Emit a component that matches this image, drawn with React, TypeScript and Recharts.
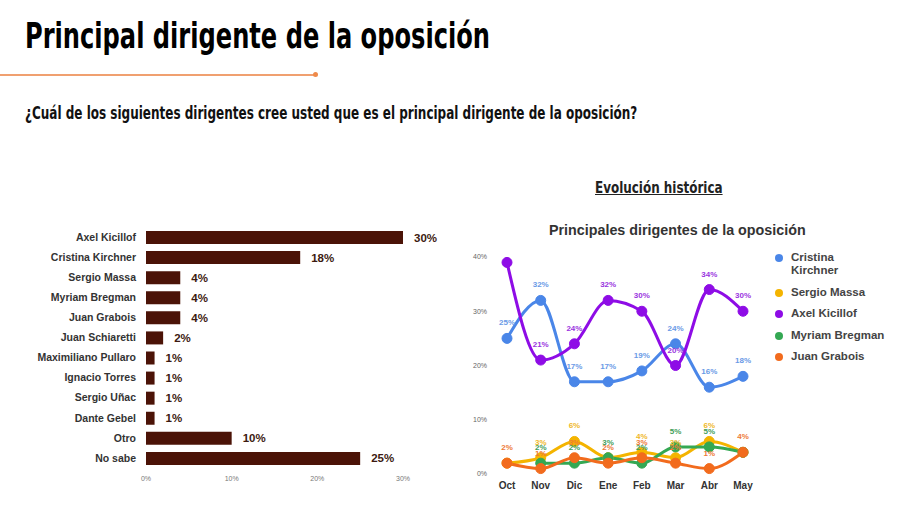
import { Bar, BarChart, LabelList, Line, LineChart, XAxis, YAxis } from "recharts";

// Ranking actual
const leaders = [
  "Axel Kicillof",
  "Cristina Kirchner",
  "Sergio Massa",
  "Myriam Bregman",
  "Juan Grabois",
  "Juan Schiaretti",
  "Maximiliano Pullaro",
  "Ignacio Torres",
  "Sergio Uñac",
  "Dante Gebel",
  "Otro",
  "No sabe",
];
const leaderShare = [30, 18, 4, 4, 4, 2, 1, 1, 1, 1, 10, 25];
const shareTicks = [0, 10, 20, 30];

// Evolución mensual
const months = ["Oct", "Nov", "Dic", "Ene", "Feb", "Mar", "Abr", "May"];
const kirchner = [25, 32, 17, 17, 19, 24, 16, 18];
const massa = [2, 3, 6, 3, 4, 3, 6, 4];
const kicillof = [39, 21, 24, 32, 30, 20, 34, 30];
const bregman = [null, 2, 2, 3, 2, 5, 5, 4];
const grabois = [2, 1, 3, 2, 3, 2, 1, 4];
const historyTicks = [0, 10, 20, 30, 40];

const series = [
  { key: "kirchner", name: "Cristina Kirchner", legend: "Cristina\nKirchner", color: "#4a86e8", label: "#6a9ae6", values: kirchner },
  { key: "massa", name: "Sergio Massa", legend: "Sergio Massa", color: "#f4b400", label: "#efb82a", values: massa },
  { key: "kicillof", name: "Axel Kicillof", legend: "Axel Kicillof", color: "#8e0ce6", label: "#9a35e0", values: kicillof },
  { key: "bregman", name: "Myriam Bregman", legend: "Myriam Bregman", color: "#34a853", label: "#3f9e5a", values: bregman },
  { key: "grabois", name: "Juan Grabois", legend: "Juan Grabois", color: "#f26b1d", label: "#ee7a36", values: grabois },
];

const barData = leaders.map((name, i) => ({ name, value: leaderShare[i] }));
const lineData = months.map((month, i) => {
  const row: Record<string, string | number | null> = { month };
  series.forEach((s) => (row[s.key] = s.values[i]));
  return row;
});

const condensed = "'DejaVu Sans Condensed', 'DejaVu Sans', sans-serif";
const sans = "'Liberation Sans', Arial, sans-serif";

// a later series with the same value at that month paints its label on the same spot
function coveredLater(seriesIdx: number, index: number, value: number) {
  return series.slice(seriesIdx + 1).some((s) => s.values[index] === value);
}

function pointLabel(seriesIdx: number) {
  const s = series[seriesIdx];
  return (props: any) => {
    const { x, y, value, index } = props;
    if (value == null || (s.key === "kicillof" && index === 0)) return null;
    if (coveredLater(seriesIdx, index, value)) return null;
    return (
      <text x={x} y={y - 13} textAnchor="middle" fill={s.label} fontSize={8} fontWeight="bold" fontFamily={sans}>
        {value}%
      </text>
    );
  };
}

const squeezed = (scale: number): React.CSSProperties => ({
  transform: `scaleX(${scale})`,
  transformOrigin: "left top",
  whiteSpace: "nowrap",
});

export default function App() {
  return (
    <div style={{ position: "absolute", left: 0, top: 0, width: 900, height: 505, background: "#fff", overflow: "hidden", fontFamily: sans }}>
      <div style={{ position: "absolute", left: 25, top: 15, fontFamily: condensed, fontWeight: "bold", fontSize: 36, color: "#000", ...squeezed(0.745) }}>
        Principal dirigente de la oposición
      </div>
      <div style={{ position: "absolute", left: 0, top: 74, width: 315, height: 2, background: "#f0a070" }} />
      <div style={{ position: "absolute", left: 313, top: 72, width: 5, height: 5, borderRadius: 3, background: "#ef8a4a" }} />
      <div style={{ position: "absolute", left: 25, top: 103, fontFamily: condensed, fontWeight: "bold", fontSize: 17, color: "#111", ...squeezed(0.785) }}>
        ¿Cuál de los siguientes dirigentes cree usted que es el principal dirigente de la oposición?
      </div>
      <div style={{ position: "absolute", left: 595, top: 178, fontFamily: condensed, fontWeight: "bold", fontSize: 16, color: "#222", textDecoration: "underline", ...squeezed(0.83) }}>
        Evolución histórica
      </div>
      <div style={{ position: "absolute", left: 549, top: 222, fontWeight: "bold", fontSize: 14.3, color: "#333", whiteSpace: "nowrap" }}>
        Principales dirigentes de la oposición
      </div>

      <div style={{ position: "absolute", left: 0, top: 220 }}>
        <BarChart width={450} height={275} data={barData} layout="vertical" margin={{ top: 7, right: 47, left: 6, bottom: 0 }}>
          <XAxis
            type="number"
            domain={[0, 30]}
            ticks={shareTicks}
            tickFormatter={(v) => `${v}%`}
            axisLine={false}
            tickLine={false}
            height={27}
            tick={{ fontSize: 7, fill: "#777", fontFamily: sans }}
          />
          <YAxis
            type="category"
            dataKey="name"
            width={140}
            axisLine={false}
            tickLine={false}
            tickMargin={4}
            interval={0}
            tick={{ fontSize: 10.5, fontWeight: "bold", fill: "#333", fontFamily: sans }}
          />
          <Bar dataKey="value" fill="#4b1307" barSize={13} isAnimationActive={false}>
            <LabelList
              dataKey="value"
              position="right"
              offset={11}
              formatter={(v: any) => `${v}%`}
              style={{ fontSize: 11.5, fontWeight: "bold", fill: "#3c1a10", fontFamily: sans }}
            />
          </Bar>
        </BarChart>
      </div>

      <div style={{ position: "absolute", left: 460, top: 240 }}>
        <LineChart width={330} height={260} data={lineData} margin={{ top: 17, right: 35, left: 0, bottom: 6 }}>
          <XAxis
            dataKey="month"
            padding={{ left: 12, right: 12 }}
            axisLine={false}
            tickLine={false}
            height={20}
            interval={0}
            tick={{ fontSize: 10, fontWeight: "bold", fill: "#333", fontFamily: sans }}
          />
          <YAxis
            domain={[0, 40]}
            ticks={historyTicks}
            tickFormatter={(v) => `${v}%`}
            axisLine={false}
            tickLine={false}
            width={35}
            tick={{ fontSize: 7, fill: "#666", fontFamily: sans }}
          />
          {series.map((s, si) => (
            <Line
              key={s.key}
              dataKey={s.key}
              name={s.name}
              type="monotone"
              stroke={s.color}
              strokeWidth={3}
              dot={{ r: 5, fill: s.color, stroke: s.color, strokeWidth: 1 }}
              isAnimationActive={false}
            >
              <LabelList dataKey={s.key} content={pointLabel(si)} />
            </Line>
          ))}
        </LineChart>
      </div>

      <div style={{ position: "absolute", left: 775, top: 251, fontSize: 11.5, fontWeight: "bold", color: "#444" }}>
        {series.map((s) => (
          <div key={s.key} style={{ display: "flex", alignItems: "flex-start", marginBottom: 8.5 }}>
            <span style={{ width: 8, height: 8, borderRadius: 4, background: s.color, marginTop: 3, marginRight: 8, flexShrink: 0 }} />
            <span style={{ lineHeight: "13px", whiteSpace: "pre-line" }}>{s.legend}</span>
          </div>
        ))}
      </div>
    </div>
  );
}
